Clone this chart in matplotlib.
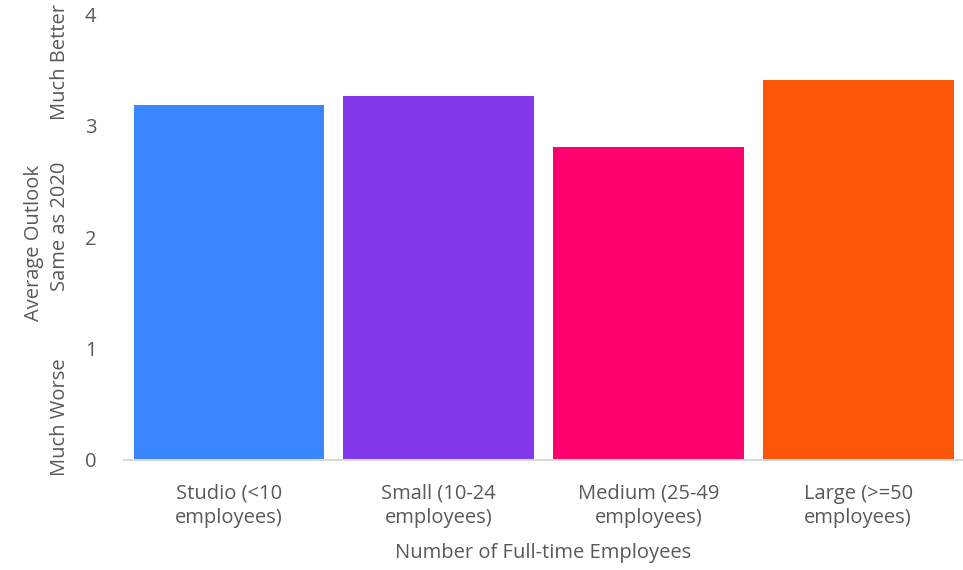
import matplotlib
matplotlib.use("Agg")
import matplotlib.pyplot as plt

plt.rcParams['font.family'] = ['Open Sans', 'DejaVu Sans']

categories = ["Studio (<10\nemployees)", "Small (10-24\nemployees)",
              "Medium (25-49\nemployees)", "Large (>=50\nemployees)"]
outlook = [3.19, 3.27, 2.81, 3.41]
colors = ["#3A86FF", "#8338EC", "#FF006E", "#FB5607"]
y_ticks = [0, 1, 2, 3, 4]
scale_labels = [(0.38, "Much Worse"), (2.1, "Same as 2020"), (3.57, "Much Better")]

text_color = "#595959"

fig = plt.figure(figsize=(9.63, 5.70), dpi=100)
ax = fig.add_axes([0.129, 0.193, 0.871, 0.782])

x = range(len(categories))
ax.bar(x, outlook, width=0.91, color=colors)

ax.set_xlim(-0.5, len(categories) - 0.5)
ax.set_ylim(0, 4)
ax.set_yticks(y_ticks)
ax.set_xticks(list(x))
ax.set_xticklabels(categories, fontsize=14.5, color=text_color, linespacing=1.3)
ax.tick_params(axis='y', labelsize=14.5, labelcolor=text_color, length=0, pad=20)
ax.tick_params(axis='x', length=0, pad=17)

for s in ["top", "right", "left"]:
    ax.spines[s].set_visible(False)
ax.spines["bottom"].set_color("#d9d9d9")
ax.spines["bottom"].set_linewidth(1.5)

# scale descriptions next to the numeric ticks
for val, lab in scale_labels:
    ax.text(-0.077, val, lab, transform=ax.get_yaxis_transform(), rotation=90,
            ha='center', va='center', fontsize=14.5, color=text_color)
ax.text(-0.107, 1.95, "Average Outlook", transform=ax.get_yaxis_transform(), rotation=90,
        ha='center', va='center', fontsize=14.5, color=text_color)

ax.set_xlabel("Number of Full-time Employees", fontsize=14.5, color=text_color, labelpad=11)

fig.savefig("out.png", dpi=100)
